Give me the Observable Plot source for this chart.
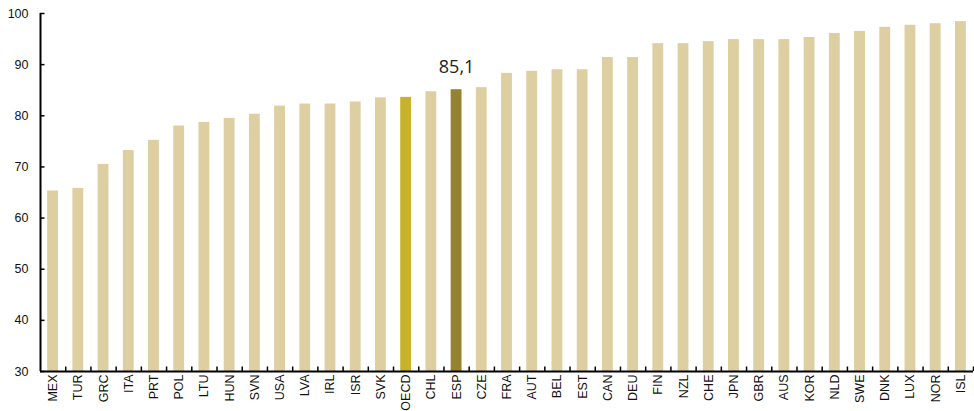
<!DOCTYPE html>
<html>
<head>
<meta charset="utf-8">
<script src="https://cdn.jsdelivr.net/npm/d3@7"></script>
<script src="https://cdn.jsdelivr.net/npm/@observablehq/plot@0.6"></script>
<style>
  html, body { margin: 0; padding: 0; background: #fff; }
  #chart { width: 974px; height: 411px; }
</style>
</head>
<body>
<div id="chart"></div>
<script>
const countries = ["MEX","TUR","GRC","ITA","PRT","POL","LTU","HUN","SVN","USA","LVA","IRL","ISR","SVK","OECD","CHL","ESP","CZE","FRA","AUT","BEL","EST","CAN","DEU","FIN","NZL","CHE","JPN","GBR","AUS","KOR","NLD","SWE","DNK","LUX","NOR","ISL"];
const values = [65.3,65.8,70.5,73.2,75.2,78.0,78.7,79.5,80.3,81.9,82.3,82.3,82.7,83.5,83.6,84.7,85.1,85.5,88.3,88.7,89.0,89.0,91.4,91.4,94.1,94.1,94.5,94.9,94.9,94.9,95.3,96.1,96.5,97.3,97.7,98.0,98.4];
const yTicks = [30,40,50,60,70,80,90,100];
const highlightLabel = "85,1";
const colorDefault = "#DDCFA1";
const colorOECD = "#C8B22C";
const colorESP = "#968230";

const data = countries.map((c, i) => ({country: c, value: values[i]}));
const colorOf = d => d.country === "OECD" ? colorOECD : d.country === "ESP" ? colorESP : colorDefault;

const W = 974, H = 411, mL = 40, mR = 1, mT = 13, mB = 40;
const step = (W - mL - mR) / countries.length;
const pInner = 0.57;
const tickLen = 4.5 / ((H - mT - mB) / 70);

const chart = Plot.plot({
  width: W,
  height: H,
  marginLeft: mL,
  marginRight: mR,
  marginTop: mT,
  marginBottom: mB,
  style: {fontFamily: "'Liberation Sans', Arial, sans-serif", background: "#fff"},
  x: {domain: countries, paddingInner: pInner, paddingOuter: pInner / 2, round: false, label: null},
  y: {domain: [30, 100], label: null},
  marks: [
    Plot.barY(data, {x: "country", y1: 30, y2: "value", fill: colorOf}),
    Plot.axisY({ticks: yTicks, tickSize: 0, tickPadding: 12, fontSize: 12.5, color: "#111"}),
    Plot.axisY({ticks: yTicks, tickSize: 4.5, dx: 4.5, tickFormat: () => "", stroke: "#000", strokeWidth: 1.5}),
    Plot.axisX({tickSize: 0, tickRotate: -90, tickPadding: 3, fontSize: 12.5, color: "#111"}),
    Plot.ruleX(countries.slice(1), {x: d => d, y1: 30, y2: 30 + tickLen, dx: -step / 2, stroke: "#000", strokeWidth: 1.5}),
    Plot.ruleX(countries.slice(-1), {x: d => d, y1: 30, y2: 30 + tickLen, dx: step / 2, stroke: "#000", strokeWidth: 1.5}),
    Plot.ruleX(countries.slice(0, 1), {x: d => d, y1: 30, y2: 100, dx: -step / 2, stroke: "#000", strokeWidth: 2}),
    Plot.ruleY([30], {stroke: "#000", strokeWidth: 2}),
    Plot.text(data.filter(d => d.country === "ESP"), {x: "country", y: "value", text: () => highlightLabel, dy: -22, fontSize: 18, fontFamily: "'Open Sans', sans-serif", fill: "#222"})
  ]
});
document.getElementById("chart").appendChild(chart);
</script>
</body>
</html>
